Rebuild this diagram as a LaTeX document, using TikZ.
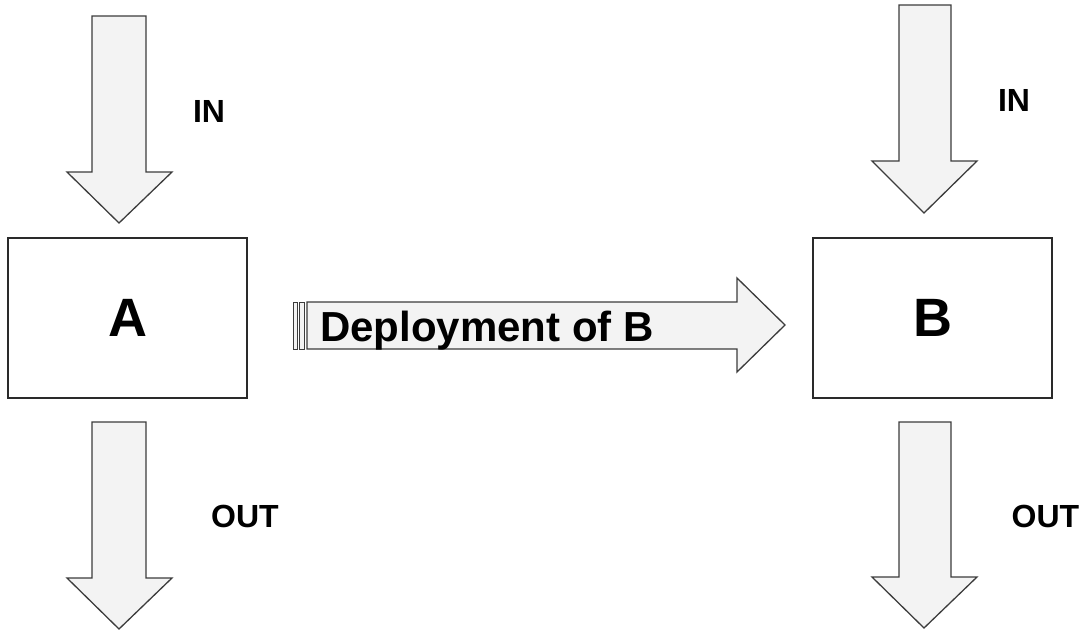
\documentclass[tikz,border=0pt]{standalone}
\usepackage{fontspec}
\setmainfont{Liberation Sans}
\definecolor{arrowfill}{HTML}{F3F3F3}
\definecolor{arrowline}{HTML}{3C3C3C}
\definecolor{boxline}{HTML}{2A2A2A}
\begin{document}
\begin{tikzpicture}[x=1pt, y=-1pt,
    blockarrow/.style={draw=arrowline, fill=arrowfill, line width=1.3pt, line join=miter},
    box/.style={draw=boxline, line width=1.3pt, minimum width=239pt, minimum height=160pt,
                inner sep=0pt, font=\fontsize{54}{60}\selectfont\bfseries},
    tag/.style={inner sep=0pt, font=\fontsize{32}{36}\selectfont\bfseries}]

    \useasboundingbox (0,0) rectangle (1082,632);

    % boxes
    \node[box] (boxA) at (127.5,318) {A};
    \node[box] (boxB) at (932.5,318) {B};

    % in arrows
    \draw[blockarrow] (92,16) -- (146,16) -- (146,172) -- (172,172) -- (119,223) -- (67,172) -- (92,172) -- cycle;
    \draw[blockarrow] (899,5) -- (951,5) -- (951,161) -- (977,161) -- (924,213) -- (872,161) -- (899,161) -- cycle;

    % out arrows
    \draw[blockarrow] (92,422) -- (146,422) -- (146,578) -- (172,578) -- (119,629) -- (67,578) -- (92,578) -- cycle;
    \draw[blockarrow] (899,422) -- (951,422) -- (951,577) -- (977,577) -- (924,628) -- (872,577) -- (899,577) -- cycle;

    % deployment arrow
    \draw[blockarrow, line width=1pt] (293,302) rectangle (297,349);
    \draw[blockarrow, line width=1pt] (299.5,302) rectangle (304.5,349);
    \draw[blockarrow] (307,302) -- (737,302) -- (737,278) -- (785,325) -- (737,372) -- (737,349) -- (307,349) -- cycle;

    % labels
    \node[anchor=base west, inner sep=0pt, font=\fontsize{42}{46}\selectfont\bfseries] (deploy) at (320,341) {Deployment of B};
    \node[tag] (inA) at (209,111) {IN};
    \node[tag] (inB) at (1014,100) {IN};
    \node[tag] (outA) at (245,516.5) {OUT};
    \node[tag] (outB) at (1045.5,516.5) {OUT};

\end{tikzpicture}
\end{document}
